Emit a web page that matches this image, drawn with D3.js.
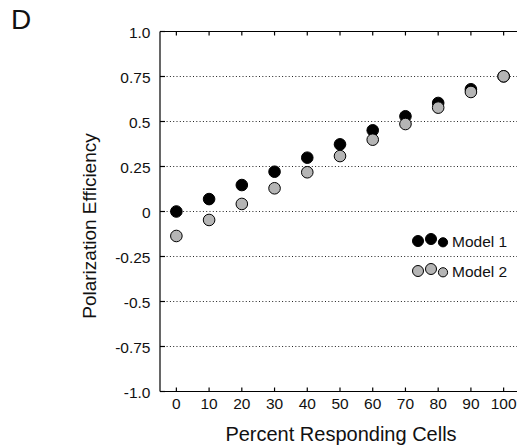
<!DOCTYPE html>
<html><head><meta charset="utf-8">
<script src="https://cdn.jsdelivr.net/npm/d3@7/dist/d3.min.js"></script>
<style>body{margin:0;background:#fff}svg{display:block}text{font-family:"Liberation Sans",Arial,sans-serif;fill:#111}</style>
</head><body><svg id="c" width="517" height="448"></svg>
<script>
const percents = [0,10,20,30,40,50,60,70,80,90,100];
const model1 = [0.0,0.069,0.147,0.221,0.299,0.373,0.451,0.529,0.603,0.679,0.751];
const model2 = [-0.136,-0.047,0.042,0.129,0.218,0.308,0.399,0.486,0.577,0.664,0.751];
const yTicks = [1.0,0.75,0.5,0.25,0,-0.25,-0.5,-0.75,-1.0];
const yTickLabels = ["1.0","0.75","0.5","0.25","0","-0.25","-0.5","-0.75","-1.0"];
const gridVals = [0.75,0.5,0.25,0,-0.25,-0.5,-0.75];
const seriesNames = ["Model 1","Model 2"];
const seriesFill = ["#000","#b5b5b5"];

const svg = d3.select("#c");
const x = d3.scaleLinear().domain([-5,105]).range([160,520]);
const y = d3.scaleLinear().domain([-1,1]).range([391.5,31.5]);

// panel label
svg.append("text").attr("x",11).attr("y",29).style("font-size","28px").text("D");

// grid
svg.append("g").selectAll("line").data(gridVals).join("line")
  .attr("x1",160).attr("x2",517).attr("y1",d=>y(d)).attr("y2",d=>y(d))
  .attr("stroke","#222").attr("stroke-width",1).attr("stroke-dasharray","1,2.3");

// axes lines
const ax = svg.append("g").attr("stroke","#000").attr("stroke-width",1.2);
ax.append("line").attr("x1",160).attr("x2",160).attr("y1",y(1)).attr("y2",y(-1));
ax.append("line").attr("x1",160).attr("x2",517).attr("y1",y(1)).attr("y2",y(1));
ax.append("line").attr("x1",160).attr("x2",517).attr("y1",y(-1)).attr("y2",y(-1));
ax.selectAll(".tt").data(percents).join("line").attr("x1",d=>x(d)).attr("x2",d=>x(d)).attr("y1",y(1)).attr("y2",y(1)+4);
ax.selectAll(".tb").data(percents).join("line").attr("x1",d=>x(d)).attr("x2",d=>x(d)).attr("y1",y(-1)).attr("y2",y(-1)-4);
ax.selectAll(".ty").data(yTicks).join("line").attr("x1",160).attr("x2",165).attr("y1",d=>y(d)).attr("y2",d=>y(d));

// tick labels
svg.append("g").selectAll("text").data(yTicks).join("text")
  .attr("x",150.5).attr("y",d=>y(d)+1).attr("dy","0.35em").attr("text-anchor","end")
  .style("font-size","15.5px").text((d,i)=>yTickLabels[i]);
svg.append("g").selectAll("text").data(percents).join("text")
  .attr("x",d=>x(d)).attr("y",404).attr("dy","0.35em").attr("text-anchor","middle")
  .style("font-size","15.5px").text(d=>d);

// axis titles
svg.append("text").attr("x",341).attr("y",441).attr("text-anchor","middle")
  .style("font-size","20px").text("Percent Responding Cells");
svg.append("text").attr("transform","translate(96,226) rotate(-90)").attr("text-anchor","middle")
  .style("font-size","19px").text("Polarization Efficiency");

// points
[model1, model2].forEach((vals,si)=>{
  svg.append("g").selectAll("circle").data(vals).join("circle")
    .attr("cx",(d,i)=>x(percents[i])).attr("cy",d=>y(d)).attr("r",5.8)
    .attr("fill",seriesFill[si]).attr("stroke","#000").attr("stroke-width",1);
});

// legend
const legY = [241, 271];
const legDx = [418, 431, 443];
const legDy = [0, -2, 1.3];
const legR = [5.5, 5.5, 4.6];
seriesNames.forEach((name,si)=>{
  const g = svg.append("g");
  legDx.forEach((lx,k)=>{
    g.append("circle").attr("cx",lx).attr("cy",legY[si]+legDy[k]).attr("r",legR[k])
      .attr("fill",seriesFill[si]).attr("stroke","#000").attr("stroke-width",1);
  });
  g.append("text").attr("x",452).attr("y",legY[si]+1).attr("dy","0.35em").style("font-size","15.5px").text(name);
});
</script></body></html>
